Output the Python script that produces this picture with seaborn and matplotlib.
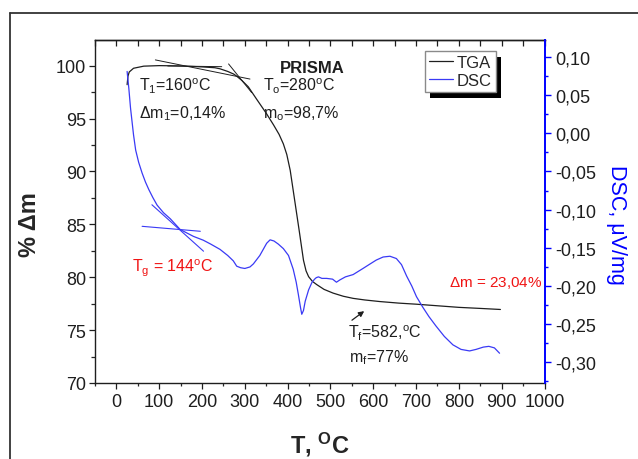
import numpy as np
import pandas as pd
import matplotlib
matplotlib.use("Agg")
import matplotlib.pyplot as plt
import seaborn as sns
from matplotlib.ticker import MultipleLocator
from matplotlib.lines import Line2D
from matplotlib.patches import Rectangle
from matplotlib.transforms import IdentityTransform

# ---------------- data ----------------
tga_T = [25, 27, 30, 40, 64, 100, 150, 200, 230, 242, 260, 274, 281, 293, 308, 328, 350,
         367, 380, 390, 398, 406, 413, 420, 427, 432, 437, 443, 449, 458, 468, 485, 506,
         530, 553, 580, 615, 660, 700, 750, 800, 850, 897]
tga_m = [98.2, 99.0, 99.4, 99.75, 99.95, 100.0, 99.97, 99.88, 99.8, 99.7, 99.45, 99.2, 99.0,
         98.6, 98.0, 96.8, 95.5, 94.4, 93.5, 92.6, 91.6, 90.1, 88.2, 86.3, 84.4, 83.0, 81.6,
         80.6, 80.05, 79.6, 79.3, 78.85, 78.5, 78.2, 78.0, 77.85, 77.7, 77.55, 77.45, 77.3,
         77.15, 77.05, 76.95]

dsc_T = [25, 29, 33, 40, 45, 52, 60, 68, 76, 85, 95, 110, 126, 149, 180, 203, 220, 242, 260,
         273, 281, 290, 300, 312, 320, 335, 351, 359, 368, 378, 390, 402, 413, 420, 425, 430,
         433, 437, 441, 449, 457, 463, 467, 472, 480, 491, 505, 514, 522, 535, 553, 576, 590,
         607, 623, 639, 654, 666, 678, 690, 701, 716, 730, 746, 766, 786, 805, 825, 840,
         857, 870, 883, 895]
dsc_v = [0.081, 0.059, 0.033, -0.002, -0.022, -0.038, -0.052, -0.064, -0.074, -0.084,
         -0.094, -0.104, -0.112, -0.126, -0.135, -0.140, -0.145, -0.152, -0.160, -0.167,
         -0.174, -0.176, -0.177, -0.175, -0.171, -0.160, -0.144, -0.1395, -0.141, -0.145,
         -0.151, -0.160, -0.178, -0.195, -0.211, -0.228, -0.237, -0.232, -0.220, -0.205,
         -0.195, -0.191, -0.189, -0.188, -0.190, -0.190, -0.191, -0.195, -0.192, -0.188,
         -0.185, -0.177, -0.172, -0.166, -0.162, -0.161, -0.164, -0.172, -0.187, -0.200,
         -0.214, -0.228, -0.240, -0.252, -0.266, -0.277, -0.283, -0.285, -0.283, -0.280,
         -0.279, -0.281, -0.288]

# tangent construction lines
tga_tan_long_T = [91, 312]
tga_tan_long_m = [100.54, 98.73]
tga_tan_flat_T = [120, 246]
tga_tan_flat_m = [99.97, 99.9]
tga_tan_steep_T = [262, 316]
tga_tan_steep_m = [100.16, 97.45]
dsc_tan1_T = [60, 196]
dsc_tan1_v = [-0.1218, -0.1283]
dsc_tan2_T = [83, 203.5]
dsc_tan2_v = [-0.0936, -0.1544]

x_ticks = [0, 100, 200, 300, 400, 500, 600, 700, 800, 900, 1000]
x_tick_labels = ["0", "100", "200", "300", "400", "500", "600", "700", "800", "900", "1000"]
y_ticks = [70, 75, 80, 85, 90, 95, 100]
y_tick_labels = ["70", "75", "80", "85", "90", "95", "100"]
dsc_ticks = [-0.30, -0.25, -0.20, -0.15, -0.10, -0.05, 0.00, 0.05, 0.10]
dsc_tick_labels = ["-0,30", "-0,25", "-0,20", "-0,15", "-0,10", "-0,05", "0,00", "0,05", "0,10"]

series_labels = ["TGA", "DSC"]

# ---------------- style ----------------
sns.set_style("ticks")
plt.rcParams["font.family"] = ["Liberation Sans", "DejaVu Sans"]
plt.rcParams["mathtext.fontset"] = "custom"
plt.rcParams["mathtext.rm"] = "Liberation Sans"
plt.rcParams["mathtext.it"] = "Liberation Sans:italic"
plt.rcParams["mathtext.bf"] = "Liberation Sans:bold"
plt.rcParams["mathtext.default"] = "regular"

BLUE = "#3a3af5"
RED = "#f01414"
BLACK = "#1e1e1e"

fig = plt.figure(figsize=(6.38, 4.6), dpi=100)
fig.patch.set_facecolor("white")
ax = fig.add_axes([95 / 638, 1 - 384 / 460, (544.5 - 95) / 638, (384 - 40.7) / 460])
ax2 = ax.twinx()

df_tga = pd.DataFrame({"T": tga_T, "m": tga_m})
df_dsc = pd.DataFrame({"T": dsc_T, "v": dsc_v})

sns.lineplot(data=df_tga, x="T", y="m", ax=ax, color=BLACK, linewidth=0.9,
             sort=False, estimator=None, legend=False)
sns.lineplot(data=df_dsc, x="T", y="v", ax=ax2, color=BLUE, linewidth=0.9,
             sort=False, estimator=None, legend=False)

# tangents
for tx, ty in [(tga_tan_long_T, tga_tan_long_m), (tga_tan_flat_T, tga_tan_flat_m),
               (tga_tan_steep_T, tga_tan_steep_m)]:
    sns.lineplot(x=tx, y=ty, ax=ax, color=BLACK, linewidth=0.7, estimator=None, legend=False)
for tx, ty in [(dsc_tan1_T, dsc_tan1_v), (dsc_tan2_T, dsc_tan2_v)]:
    sns.lineplot(x=tx, y=ty, ax=ax2, color=BLUE, linewidth=0.8, estimator=None, legend=False)

# ---------------- axes ----------------
ax.set_xlim(-50, 1000)
ax.set_ylim(70, 102.45)
ax2.set_ylim(-0.327, 0.1226)

ax.set_xticks(x_ticks)
ax.set_xticklabels(x_tick_labels)
ax.set_yticks(y_ticks)
ax.set_yticklabels(y_tick_labels)
ax.xaxis.set_minor_locator(MultipleLocator(50))
ax.yaxis.set_minor_locator(MultipleLocator(2.5))
ax2.set_yticks(dsc_ticks)
ax2.set_yticklabels(dsc_tick_labels)
ax2.yaxis.set_minor_locator(MultipleLocator(0.025))

ax.tick_params(axis="x", which="major", direction="out", length=4, width=0.9,
               labelsize=13, pad=3, colors=BLACK, top=False)
ax.tick_params(axis="x", which="minor", direction="out", length=2.2, width=0.9, top=False)
ax.tick_params(axis="y", which="major", direction="out", length=4.5, width=0.9,
               labelsize=13, pad=2, colors=BLACK, right=False)
ax.tick_params(axis="y", which="minor", direction="out", length=3, width=0.9, right=False)
ax2.tick_params(axis="y", which="major", direction="out", length=4, width=1.0,
                labelsize=13, pad=4, color="#0000ff", labelcolor=BLACK)
ax2.tick_params(axis="y", which="minor", direction="out", length=2.5, width=1.0, color="#0000ff")

sec = ax.secondary_xaxis("top")
sec.set_xticks(x_ticks)
sec.xaxis.set_minor_locator(MultipleLocator(50))
sec.tick_params(axis="x", which="both", direction="in", length=4.2, width=0.9,
                labeltop=False, colors=BLACK)
sec.spines["top"].set_color(BLACK)
sec.spines["top"].set_linewidth(1.0)

for s in ["left", "bottom", "top"]:
    ax.spines[s].set_color(BLACK)
    ax.spines[s].set_linewidth(1.0)
    ax.spines[s].set_visible(True)
ax.spines["right"].set_visible(False)
for s in ["left", "bottom", "top"]:
    ax2.spines[s].set_visible(False)
ax2.spines["right"].set_visible(True)
ax2.spines["right"].set_color("#0000ff")
ax2.spines["right"].set_linewidth(1.4)

ax.set_xlabel(r"T, $\mathbf{^{O}}$C", fontsize=17, fontweight="bold", va="baseline")
ax.xaxis.set_label_coords(0.5, (384 - 453) / 343.3)
ax.set_ylabel("% \u0394m", fontsize=17, fontweight="bold", va="center")
ax.yaxis.set_label_coords((29 - 95) / 449.5, 0.463)
ax2.set_ylabel("DSC, \u03bcV/mg", fontsize=15.5, color="#0000ff", rotation=270, va="center")
ax2.yaxis.set_label_coords((617 - 95) / 449.5, 0.463)

# ---------------- annotations ----------------
fs = 11.5
ax.text(53.6, 97.64, r"T$_1$=160$^{o}$C", fontsize=fs, color=BLACK, va="baseline")
ax.text(53.6, 95.13, r"$\Delta$m$_1$=0,14%", fontsize=fs, color=BLACK, va="baseline")
ax.text(457, 99.37, "PRISMA", fontsize=12, fontweight="bold", color=BLACK,
        ha="center", va="baseline")
ax.text(343, 97.64, r"T$_o$=280$^{o}$C", fontsize=fs, color=BLACK, va="baseline")
ax.text(343, 95.13, r"m$_o$=98,7%", fontsize=fs, color=BLACK, va="baseline")
ax.text(37, 80.53, r"T$_g$ = 144$^{o}$C", fontsize=fs, color=RED, va="baseline")
ax.text(776, 79.17, r"$\Delta$m = 23,04%", fontsize=11, color=RED, va="baseline")
ax.text(541.5, 74.36, r"T$_f$=582,$^{o}$C", fontsize=fs, color=BLACK, va="baseline")
ax.text(543, 72.05, r"m$_f$=77%", fontsize=fs, color=BLACK, va="baseline")
ax.annotate("", xy=(584, 76.95), xytext=(545, 75.78),
            arrowprops=dict(arrowstyle="-|>", color=BLACK, lw=0.9, mutation_scale=8))

# ---------------- legend ----------------
handles = [Line2D([], [], color=BLACK, lw=0.9), Line2D([], [], color=BLUE, lw=0.9)]
leg = ax2.legend(handles, series_labels, loc="upper left",
                 bbox_to_anchor=((425 - 95) / 449.5, (384 - 51.7) / 343.3),
                 borderaxespad=0, fontsize=12, frameon=True, fancybox=False,
                 handlelength=1.4, handletextpad=0.25, borderpad=0.25,
                 labelspacing=0.2, framealpha=1)
leg.get_frame().set_edgecolor("#8a8a8a")
leg.get_frame().set_linewidth(1.0)
leg.set_zorder(10)

fig.canvas.draw()
bb = leg.get_window_extent()
shadow = Rectangle((bb.x0 + 5, bb.y0 - 6), bb.width, bb.height, transform=IdentityTransform(),
                   facecolor="black", edgecolor="none", zorder=9)
ax2.add_artist(shadow)
shadow.set_clip_on(False)

# outer frame
fig.add_artist(Line2D([10 / 638, 10 / 638], [0, 1 - 14 / 460], color="#333333", lw=1.3))
fig.add_artist(Line2D([10 / 638, 1.0], [1 - 14 / 460, 1 - 14 / 460], color="#333333", lw=1.3))

fig.savefig("out.png", dpi=100, facecolor="white")
